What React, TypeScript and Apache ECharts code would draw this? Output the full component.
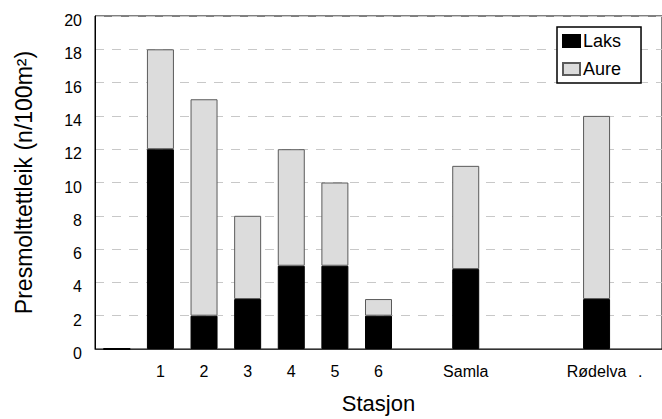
import React, { useEffect, useRef } from "react";
import * as echarts from "echarts";

const categories = ["", "1", "2", "3", "4", "5", "6", " ", "Samla", "  ", "   ", "Rødelva", "."];
const laks = [0, 12, 2, 3, 5, 5, 2, null, 4.8, null, null, 3, null];
const aure = [null, 6, 13, 5, 7, 5, 1, null, 6.2, null, null, 11, null];
const yTicks = [0, 2, 4, 6, 8, 10, 12, 14, 16, 18, 20];

const FONT = "'Liberation Sans', Arial, sans-serif";

export default function App() {
  const ref = useRef<HTMLDivElement>(null);
  useEffect(() => {
    if (!ref.current) return;
    const chart = echarts.init(ref.current, undefined, { renderer: "svg" });
    chart.setOption({
      animation: false,
      backgroundColor: "#fff",
      textStyle: { fontFamily: FONT },
      grid: {
        left: 95,
        top: 16,
        width: 578,
        height: 337,
        show: true,
        borderColor: "#000",
        borderWidth: 1,
        backgroundColor: "transparent",
      },
      legend: {
        left: 557,
        top: 27,
        orient: "vertical",
        padding: [5, 20, 5, 5],
        itemGap: 10,
        itemWidth: 17,
        itemHeight: 12,
        icon: "rect",
        backgroundColor: "#fff",
        borderColor: "#000",
        borderWidth: 1.5,
        borderRadius: 0,
        textStyle: { fontFamily: FONT, fontSize: 18, color: "#000", padding: [0, 0, 0, -2] },
        data: ["Laks", "Aure"],
      },
      xAxis: {
        type: "category",
        data: categories,
        name: "Stasjon",
        nameLocation: "middle",
        nameGap: 43,
        nameTextStyle: { fontFamily: FONT, fontSize: 22, color: "#000" },
        axisLine: { show: true, lineStyle: { color: "#333", width: 1 } },
        axisTick: { show: false },
        axisLabel: { fontFamily: FONT, fontSize: 16, color: "#000", margin: 14, interval: 0 },
        splitLine: { show: false },
      },
      yAxis: {
        type: "value",
        min: yTicks[0],
        max: yTicks[yTicks.length - 1],
        interval: 2,
        name: "Presmolttettleik (n/100m²)",
        nameLocation: "middle",
        nameGap: 60,
        nameRotate: 90,
        nameTextStyle: { fontFamily: FONT, fontSize: 23, color: "#000" },
        axisLine: { show: true, lineStyle: { color: "#000", width: 1 } },
        axisTick: { show: false },
        axisLabel: {
          margin: 13,
          formatter: "{a|{value}}",
          rich: { a: { fontFamily: FONT, fontSize: 16, color: "#000", padding: [9, 0, 0, 0] } },
        },
        splitLine: { show: true, lineStyle: { color: "#c8c8c8", type: [9, 8], width: 1 } },
      },
      series: [
        {
          name: "Laks",
          type: "bar",
          stack: "s",
          barWidth: 27,
          itemStyle: { color: "#000", borderColor: "#000", borderWidth: 1 },
          data: laks.map((v) => (v === 0 ? { value: v, itemStyle: { borderWidth: 2 } } : v)),
        },
        {
          name: "Aure",
          type: "bar",
          stack: "s",
          barWidth: 27,
          itemStyle: { color: "#dcdcdc", borderColor: "#5a5a5a", borderWidth: 1 },
          data: aure,
        },
      ],
    });
    return () => chart.dispose();
  }, []);
  return (
    <div style={{ position: "absolute", left: 0, top: 0, width: 662, height: 419, overflow: "hidden" }}>
      <div ref={ref} style={{ width: 662, height: 419 }} />
    </div>
  );
}
